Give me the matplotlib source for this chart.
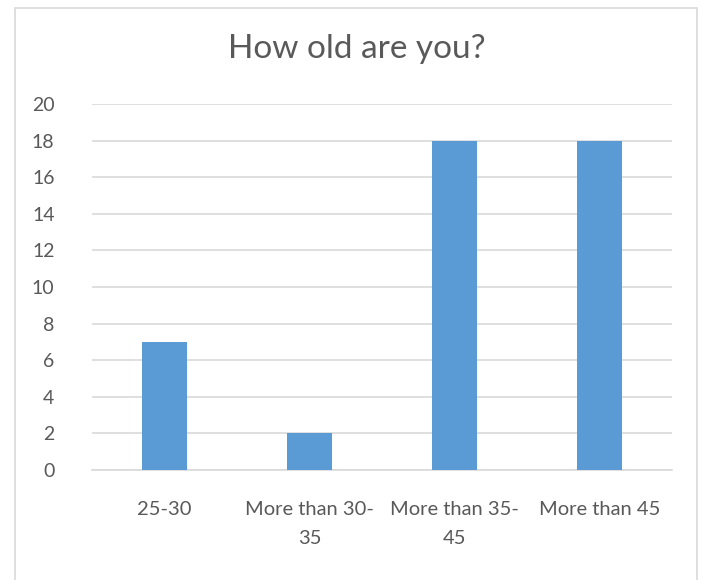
import matplotlib
matplotlib.use("Agg")
import matplotlib.pyplot as plt
from matplotlib.patches import Rectangle

categories = ["25-30", "More than 30-\n35", "More than 35-\n45", "More than 45"]
counts = [7, 2, 18, 18]
y_ticks = [0, 2, 4, 6, 8, 10, 12, 14, 16, 18, 20]
title = "How old are you?"

text_color = "#595959"
grid_color = "#d9d9d9"
bar_color = "#5b9bd5"

plt.rcParams["font.family"] = ["Lato", "DejaVu Sans"]

fig = plt.figure(figsize=(7.05, 5.8), dpi=100)
fig.patches.append(Rectangle((15 / 705, -0.01), 682 / 705, 1 - 8 / 580 + 0.01,
                             transform=fig.transFigure, fill=False,
                             edgecolor="#d9d9d9", linewidth=1.2))

ax = fig.add_axes([92 / 705, 1 - 470 / 580, 580 / 705, 366 / 580])
x = range(len(categories))
ax.bar(x, counts, width=0.315, color=bar_color, zorder=3)

ax.set_xlim(-0.5, len(categories) - 0.5)
ax.set_ylim(0, 20)
ax.set_yticks(y_ticks)
ax.set_yticklabels([str(t) for t in y_ticks])
ax.set_xticks(list(x))
ax.set_xticklabels(categories, linespacing=1.9)

ax.yaxis.grid(True, color=grid_color, linewidth=1.2, zorder=0)
ax.set_axisbelow(True)
for side in ["top", "right", "left"]:
    ax.spines[side].set_visible(False)
ax.spines["bottom"].set_color(grid_color)
ax.spines["bottom"].set_linewidth(1.2)

ax.tick_params(axis="y", length=0, pad=27, labelsize=14, labelcolor=text_color)
ax.tick_params(axis="x", length=0, pad=22, labelsize=14.5, labelcolor=text_color)

fig.text(357 / 705, 1 - 49 / 580, title, ha="center", va="center",
         fontsize=24, color=text_color)

fig.savefig("out.png", dpi=100)
